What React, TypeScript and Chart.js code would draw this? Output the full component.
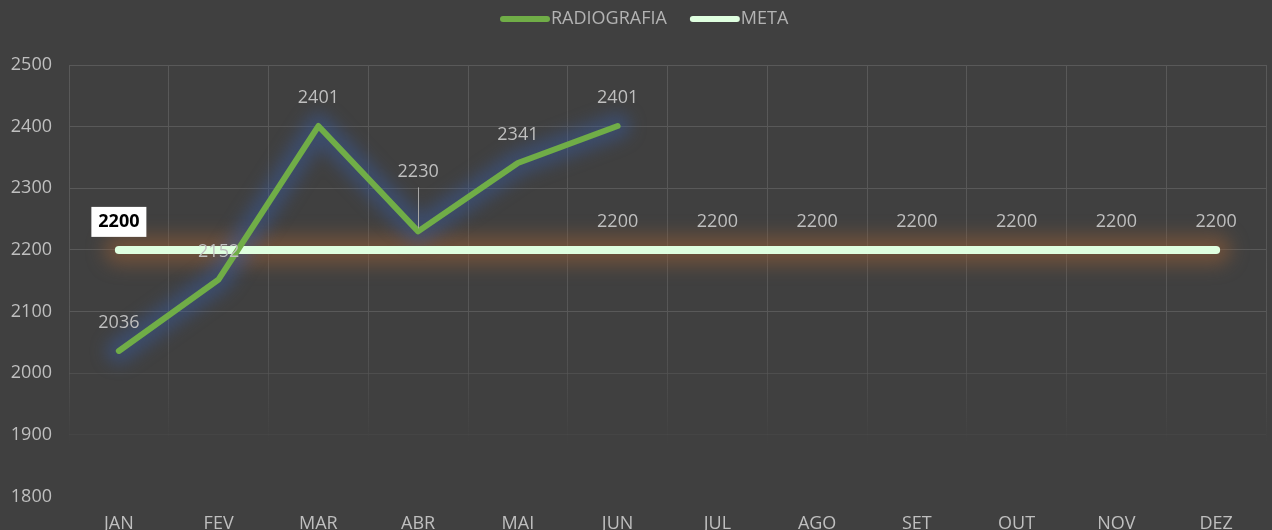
import React, { useEffect, useRef } from "react";
import { Chart, registerables } from "chart.js";
Chart.register(...registerables);

const months = ["JAN", "FEV", "MAR", "ABR", "MAI", "JUN", "JUL", "AGO", "SET", "OUT", "NOV", "DEZ"];
const radiografia = [2036, 2152, 2401, 2230, 2341, 2401, null, null, null, null, null, null];
const meta = [2200, 2200, 2200, 2200, 2200, 2200, 2200, 2200, 2200, 2200, 2200, 2200];
const metaLabelIdx = [5, 6, 7, 8, 9, 10, 11];
const metaBoxIdx = 0;
const yMin = 1800;
const yMax = 2500;
const yStep = 100;

const BG = "#404040";
const GRID = "#595959";
const TEXT = "#bfbfbf";
const GREEN = "#70ad47";
const MINT = "#dfffe0";
const FONT = '"Open Sans", sans-serif';

function strokeGlow(ctx: any, pts: any[], width: number, color: string, blur: number) {
  const valid = pts.filter((p: any) => p && !p.skip && isFinite(p.x) && isFinite(p.y));
  if (valid.length < 2) return;
  ctx.save();
  ctx.filter = `blur(${blur}px)`;
  ctx.strokeStyle = color;
  ctx.lineWidth = width;
  ctx.lineCap = "round";
  ctx.lineJoin = "round";
  ctx.beginPath();
  ctx.moveTo(valid[0].x, valid[0].y);
  for (let i = 1; i < valid.length; i++) ctx.lineTo(valid[i].x, valid[i].y);
  ctx.stroke();
  ctx.restore();
}

const glowPlugin = {
  id: "glow",
  beforeDatasetsDraw(chart: any) {
    const ctx = chart.ctx;
    const m0 = chart.getDatasetMeta(0);
    const m1 = chart.getDatasetMeta(1);
    strokeGlow(ctx, m1.data, 30, "rgba(150,95,55,0.55)", 9);
    strokeGlow(ctx, m0.data, 26, "rgba(55,90,160,0.45)", 8);
  },
};

const labelPlugin = {
  id: "labels",
  afterDatasetsDraw(chart: any) {
    const ctx = chart.ctx;
    const m0 = chart.getDatasetMeta(0);
    const m1 = chart.getDatasetMeta(1);
    ctx.save();
    ctx.textAlign = "center";
    ctx.textBaseline = "middle";
    ctx.font = `18px ${FONT}`;
    ctx.fillStyle = TEXT;
    radiografia.forEach((v, i) => {
      if (v == null) return;
      const p = m0.data[i];
      let y = p.y - 28;
      if (i === 3) {
        y = p.y - 60;
        ctx.strokeStyle = "#a6a6a6";
        ctx.lineWidth = 1;
        ctx.beginPath();
        ctx.moveTo(Math.round(p.x) + 0.5, y + 16);
        ctx.lineTo(Math.round(p.x) + 0.5, p.y - 3);
        ctx.stroke();
      }
      ctx.fillText(String(v), p.x, y);
    });
    metaLabelIdx.forEach((i) => {
      const p = m1.data[i];
      ctx.fillText(String(meta[i]), p.x, p.y - 28);
    });
    const pb = m1.data[metaBoxIdx];
    ctx.fillStyle = "#ffffff";
    ctx.fillRect(pb.x - 27.5, pb.y - 43, 55, 30);
    ctx.fillStyle = "#000000";
    ctx.font = `bold 18px ${FONT}`;
    ctx.fillText(String(meta[metaBoxIdx]), pb.x, pb.y - 28);
    ctx.restore();
  },
};

const legendPlugin = {
  id: "customLegend",
  afterDraw(chart: any) {
    const ctx = chart.ctx;
    ctx.save();
    ctx.font = `18px ${FONT}`;
    ctx.textBaseline = "middle";
    ctx.textAlign = "left";
    const y = 19;
    const items = [
      { label: chart.data.datasets[0].label, color: GREEN },
      { label: chart.data.datasets[1].label, color: MINT },
    ];
    let x = 500;
    items.forEach((it) => {
      ctx.strokeStyle = it.color;
      ctx.lineWidth = 6;
      ctx.lineCap = "round";
      ctx.beginPath();
      ctx.moveTo(x + 3, y);
      ctx.lineTo(x + 47, y);
      ctx.stroke();
      ctx.fillStyle = "#b3b3b3";
      ctx.fillText(it.label, x + 51, y);
      x += 51 + ctx.measureText(it.label).width + 23;
    });
    ctx.restore();
  },
};

export default function App() {
  const ref = useRef<HTMLCanvasElement | null>(null);
  useEffect(() => {
    if (!ref.current) return;
    const chart = new Chart(ref.current, {
      type: "line",
      data: {
        labels: months,
        datasets: [
          {
            label: "RADIOGRAFIA",
            data: radiografia,
            borderColor: GREEN,
            backgroundColor: GREEN,
            borderWidth: 6,
            borderCapStyle: "round",
            borderJoinStyle: "round",
            pointRadius: 0,
            pointHoverRadius: 0,
            tension: 0,
            spanGaps: false,
            clip: false as any,
          },
          {
            label: "META",
            data: meta,
            borderColor: MINT,
            backgroundColor: MINT,
            borderWidth: 8,
            borderCapStyle: "round",
            borderJoinStyle: "round",
            pointRadius: 0,
            pointHoverRadius: 0,
            tension: 0,
            clip: false as any,
          },
        ],
      },
      options: {
        responsive: false,
        animation: false,
        events: [],
        layout: { padding: { top: 65, right: 6, left: 0, bottom: 0 } },
        plugins: {
          legend: { display: false },
          tooltip: { enabled: false },
        },
        scales: {
          x: {
            type: "category",
            offset: true,
            border: { display: false },
            grid: {
              offset: true,
              drawTicks: false,
              lineWidth: 1,
              color: (c: any) => {
                const ca = c.chart.chartArea;
                if (!ca) return GRID;
                const g = c.chart.ctx.createLinearGradient(0, ca.top, 0, ca.bottom);
                g.addColorStop(0, "rgba(89,89,89,1)");
                g.addColorStop(0.62, "rgba(89,89,89,0.9)");
                g.addColorStop(0.75, "rgba(89,89,89,0.45)");
                g.addColorStop(0.88, "rgba(89,89,89,0)");
                g.addColorStop(1, "rgba(89,89,89,0)");
                return g;
              },
            },
            ticks: {
              color: TEXT,
              padding: 17,
              font: { family: FONT, size: 18 },
              autoSkip: false,
              maxRotation: 0,
            },
          },
          y: {
            min: yMin,
            max: yMax,
            border: { display: false },
            afterFit: (s: any) => {
              s.width = 69;
            },
            grid: {
              drawTicks: false,
              lineWidth: 1,
              color: (c: any) => {
                const v = c.tick ? c.tick.value : 0;
                if (v >= 2100) return GRID;
                if (v >= 2000) return "rgba(89,89,89,0.6)";
                if (v >= 1900) return "rgba(89,89,89,0.2)";
                return "rgba(89,89,89,0)";
              },
            },
            ticks: {
              stepSize: yStep,
              color: TEXT,
              padding: 17,
              font: { family: FONT, size: 18 },
              callback: (v: any) => String(v),
            },
          },
        },
      },
      plugins: [glowPlugin, labelPlugin, legendPlugin],
    });
    return () => chart.destroy();
  }, []);
  return (
    <div
      style={{
        position: "fixed",
        top: 0,
        left: 0,
        width: 1272,
        height: 530,
        overflow: "hidden",
        background: BG,
      }}
    >
      <canvas ref={ref} width={1272} height={552} style={{ display: "block", width: 1272, height: 552 }} />
    </div>
  );
}
